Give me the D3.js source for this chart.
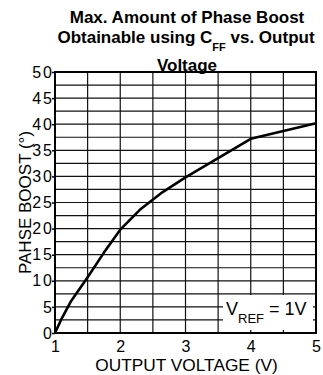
<!DOCTYPE html>
<html>
<head>
<meta charset="utf-8">
<script src="https://cdn.jsdelivr.net/npm/d3@7"></script>
<style>
  html, body { margin: 0; padding: 0; background: #fff; }
  svg { display: block; font-family: "Liberation Sans", Arial, sans-serif; }
</style>
</head>
<body>
<svg id="chart" width="323" height="375"></svg>
<script>
// Output voltage (V) and the matching maximum phase boost (degrees)
const voltage = [1, 1.1, 1.25, 1.5, 1.75, 2, 2.3, 2.65, 3, 4, 5];
const boost   = [0, 2.7, 6.2, 10.7, 15.4, 19.8, 23.6, 27, 29.8, 37.2, 40.2];

const xTicks = [1, 2, 3, 4, 5];
const yTicks = [0, 5, 10, 15, 20, 25, 30, 35, 40, 45, 50];
const xGrid = d3.range(1.5, 5, 0.5);
const yGrid = d3.range(2.5, 50, 2.5);

const svg = d3.select("#chart");
const x0 = 55, x1 = 316, y0 = 72, y1 = 333;

const x = d3.scaleLinear().domain([1, 5]).range([x0, x1]);
const y = d3.scaleLinear().domain([0, 50]).range([y1, y0]);

// grid
const grid = svg.append("g").attr("stroke", "#111").attr("stroke-width", 1.2);
grid.selectAll("line.v").data(xGrid).join("line")
  .attr("class", "v")
  .attr("x1", d => x(d)).attr("x2", d => x(d))
  .attr("y1", y0).attr("y2", y1);
grid.selectAll("line.h").data(yGrid).join("line")
  .attr("class", "h")
  .attr("x1", x0).attr("x2", x1)
  .attr("y1", d => y(d)).attr("y2", d => y(d));

// VREF label box (blanks the grid behind it)
const lg = svg.append("g");
lg.append("rect")
  .attr("x", 223).attr("y", 295).attr("width", 90).attr("height", 35)
  .attr("fill", "#fff");
const lt = lg.append("text")
  .attr("x", 226).attr("y", 315)
  .attr("font-size", 18).attr("fill", "#000");
lt.append("tspan").text("V");
lt.append("tspan").attr("font-size", 13).attr("dy", 8).text("REF");
lt.append("tspan").attr("dy", -8).attr("dx", 5).text("= 1V");

// curve
svg.append("path")
  .datum(voltage.map((v, i) => [v, boost[i]]))
  .attr("fill", "none")
  .attr("stroke", "#000")
  .attr("stroke-width", 2.6)
  .attr("stroke-linejoin", "round")
  .attr("d", d3.line().x(d => x(d[0])).y(d => y(d[1])).curve(d3.curveLinear));

// frame
svg.append("rect")
  .attr("x", x0).attr("y", y0).attr("width", x1 - x0).attr("height", y1 - y0)
  .attr("fill", "none").attr("stroke", "#000").attr("stroke-width", 2);

// axes
const yAxis = svg.append("g")
  .attr("transform", `translate(${x0},0)`)
  .call(d3.axisLeft(y).tickValues(yTicks).tickSize(3).tickPadding(0).tickFormat(d3.format("d")));
yAxis.select(".domain").remove();
yAxis.selectAll("line").attr("stroke", "#000").attr("stroke-width", 1.5);
yAxis.selectAll("text")
  .attr("x", -1)
  .attr("font-size", 16).attr("fill", "#000")
  .attr("font-family", "Liberation Sans, Arial, sans-serif")
  .attr("letter-spacing", 2);

const xAxis = svg.append("g")
  .attr("transform", `translate(0,${y1})`)
  .call(d3.axisBottom(x).tickValues(xTicks).tickSize(0).tickPadding(8).tickFormat(d3.format("d")));
xAxis.select(".domain").remove();
xAxis.selectAll("text")
  .attr("font-size", 16).attr("fill", "#000")
  .attr("font-family", "Liberation Sans, Arial, sans-serif");

// axis titles
svg.append("text")
  .attr("x", 186.5).attr("y", 371)
  .attr("text-anchor", "middle").attr("font-size", 17.3)
  .text("OUTPUT VOLTAGE (V)");
svg.append("text")
  .attr("transform", `translate(31,${(y0 + y1) / 2}) rotate(-90)`)
  .attr("text-anchor", "middle").attr("font-size", 17)
  .text("PAHSE BOOST (°)");

// title
const title = svg.append("g").attr("font-weight", "bold").attr("font-size", 17)
  .attr("text-anchor", "middle");
title.append("text").attr("x", 187).attr("y", 23).text("Max. Amount of Phase Boost");
const t2 = title.append("text").attr("x", 186).attr("y", 42.5);
t2.append("tspan").text("Obtainable using C");
t2.append("tspan").attr("font-size", 11).attr("dy", 8).text("FF");
t2.append("tspan").attr("dy", -8).text(" vs. Output");
title.append("text").attr("x", 187).attr("y", 70.5).text("Voltage");
</script>
</body>
</html>
